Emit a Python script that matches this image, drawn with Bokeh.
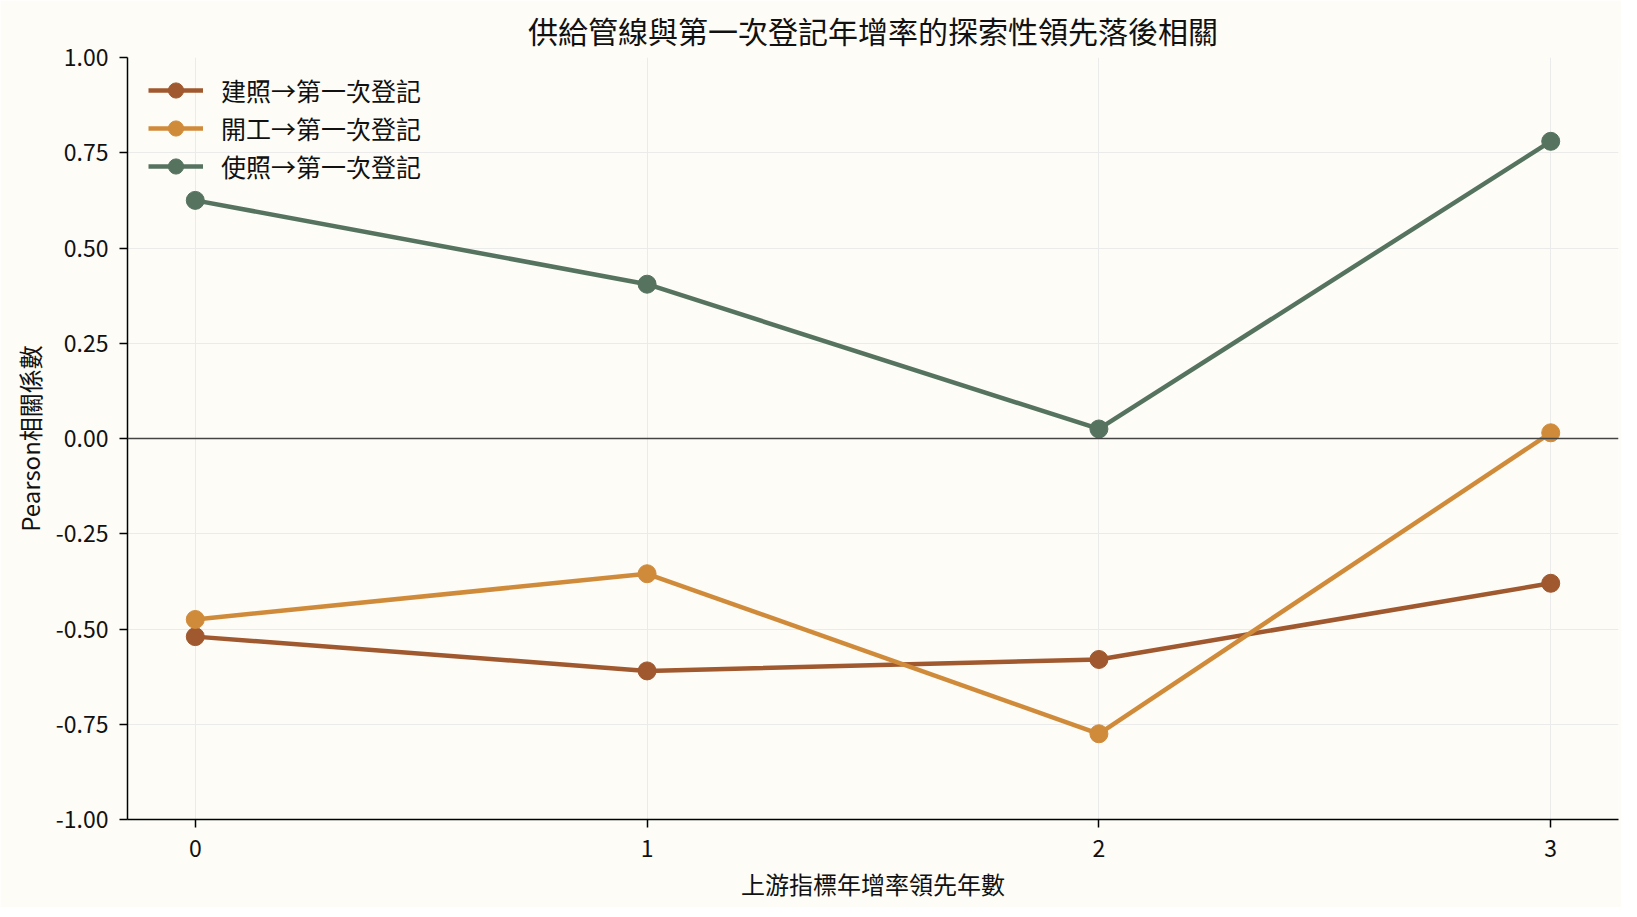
from bokeh.plotting import figure
from bokeh.models import Range1d, FixedTicker, NumeralTickFormatter, Span
from bokeh.embed import file_html
from bokeh.resources import INLINE

# lead years and Pearson coefficients
lags = [0, 1, 2, 3]
permit_corr = [-0.52, -0.61, -0.58, -0.38]   # 建照
start_corr = [-0.475, -0.355, -0.775, 0.015]  # 開工
usage_corr = [0.625, 0.405, 0.025, 0.78]     # 使照

series_labels = ["建照→第一次登記", "開工→第一次登記", "使照→第一次登記"]
y_ticks = [-1.0, -0.75, -0.5, -0.25, 0.0, 0.25, 0.5, 0.75, 1.0]

colors = ["#a0582e", "#d08b3a", "#56735f"]
FONT = "Noto Sans CJK TC"
BG = "#fdfcf7"

p = figure(title="供給管線與第一次登記年增率的探索性領先落後相關",
           x_axis_label="上游指標年增率領先年數", y_axis_label="Pearson相關係數",
           frame_width=1491, frame_height=762,
           min_border_left=127, min_border_right=3, min_border_top=49, min_border_bottom=88,
           x_range=Range1d(-0.15, 3.15), y_range=Range1d(-1, 1),
           output_backend="svg", toolbar_location=None)

p.background_fill_color = BG
p.border_fill_color = BG
p.outline_line_color = None

p.title.align = "center"
p.title.text_font = FONT
p.title.text_font_size = "30px"
p.title.text_font_style = "normal"
p.title.text_color = "#111111"
p.title.standoff = 11

p.xaxis.ticker = FixedTicker(ticks=lags)
p.yaxis.ticker = FixedTicker(ticks=y_ticks)
p.yaxis.formatter = NumeralTickFormatter(format="0.00")

for ax in (p.xaxis, p.yaxis):
    ax.axis_line_color = "black"
    ax.axis_line_width = 1.5
    ax.major_tick_line_color = "black"
    ax.major_tick_line_width = 1.5
    ax.major_tick_in = 0
    ax.major_tick_out = 8
    ax.minor_tick_line_color = None
    ax.major_label_text_font = FONT
    ax.major_label_text_font_size = "23px"
    ax.major_label_text_color = "#111111"
    ax.axis_label_text_font = FONT
    ax.axis_label_text_font_size = "24px"
    ax.axis_label_text_font_style = "normal"
    ax.axis_label_text_color = "#111111"

p.xaxis.major_label_standoff = 12
p.yaxis.major_label_standoff = 11
p.xaxis.axis_label_standoff = 6
p.yaxis.axis_label_standoff = 6

p.xgrid.grid_line_color = "#ebebeb"
p.ygrid.grid_line_color = "#ebebeb"
p.xgrid.grid_line_width = 1
p.ygrid.grid_line_width = 1

p.add_layout(Span(location=0, dimension="width", line_color="#444444", line_width=1.3))

for vals, label, c in zip([permit_corr, start_corr, usage_corr], series_labels, colors):
    p.line(lags, vals, line_color=c, line_width=4.5, legend_label=label)
    p.scatter(lags, vals, size=18, fill_color=c, line_color=c, legend_label=label)

p.legend.location = (21, 634)
p.legend.margin = 0
p.legend.padding = 10
p.legend.background_fill_alpha = 0
p.legend.border_line_color = None
p.legend.glyph_width = 55
p.legend.glyph_height = 38
p.legend.label_height = 38
p.legend.spacing = 0
p.legend.label_standoff = 18
p.legend.label_text_font = FONT
p.legend.label_text_font_size = "25px"
p.legend.label_text_color = "#111111"

open("out.html", "w").write(file_html(p, INLINE))
